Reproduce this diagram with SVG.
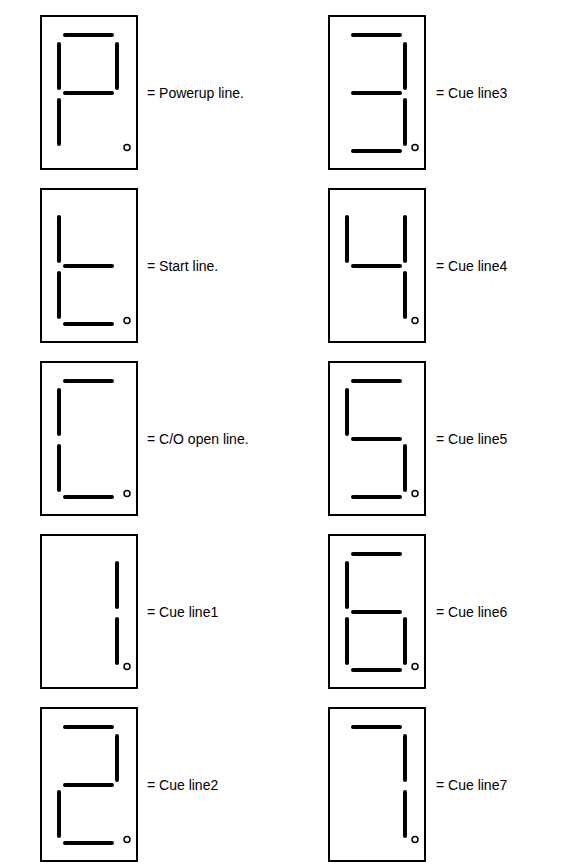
<svg xmlns="http://www.w3.org/2000/svg" xmlns:xlink="http://www.w3.org/1999/xlink" width="572" height="866" viewBox="0 0 572 866">
<style>
.box{fill:#fff;stroke:#000;stroke-width:2}
.seg{stroke:#000;stroke-width:4;stroke-linecap:round;fill:none}
.dot{fill:none;stroke:#000;stroke-width:1.5}
.lbl{font-family:"Liberation Sans",Arial,sans-serif;font-size:14px;fill:#000}
</style>
<defs>
<line id="a" class="seg" x1="24" y1="19" x2="71" y2="19"/>
<line id="b" class="seg" x1="76" y1="28" x2="76" y2="72"/>
<line id="c" class="seg" x1="76" y1="84" x2="76" y2="128"/>
<line id="d" class="seg" x1="24" y1="135" x2="71" y2="135"/>
<line id="e" class="seg" x1="18" y1="84" x2="18" y2="128"/>
<line id="f" class="seg" x1="18" y1="28" x2="18" y2="72"/>
<line id="g" class="seg" x1="24" y1="77" x2="71" y2="77"/>
<g id="frame"><rect class="box" x="0" y="0" width="96" height="153"/><circle class="dot" cx="86" cy="131.5" r="3"/></g>
</defs>
<g id="disp-P" transform="translate(41,16)"><use href="#frame"/><use href="#a"/><use href="#b"/><use href="#f"/><use href="#g"/><use href="#e"/><text class="lbl" x="106" y="81.5">= Powerup line.</text></g>
<g id="disp-3" transform="translate(329,16)"><use href="#frame"/><use href="#a"/><use href="#b"/><use href="#g"/><use href="#c"/><use href="#d"/><text class="lbl" x="107" y="81.5">= Cue line3</text></g>
<g id="disp-t" transform="translate(41,189)"><use href="#frame"/><use href="#f"/><use href="#e"/><use href="#g"/><use href="#d"/><text class="lbl" x="106" y="81.5">= Start line.</text></g>
<g id="disp-4" transform="translate(329,189)"><use href="#frame"/><use href="#f"/><use href="#b"/><use href="#g"/><use href="#c"/><text class="lbl" x="107" y="81.5">= Cue line4</text></g>
<g id="disp-C" transform="translate(41,362)"><use href="#frame"/><use href="#a"/><use href="#f"/><use href="#e"/><use href="#d"/><text class="lbl" x="106" y="81.5">= C/O open line.</text></g>
<g id="disp-5" transform="translate(329,362)"><use href="#frame"/><use href="#a"/><use href="#f"/><use href="#g"/><use href="#c"/><use href="#d"/><text class="lbl" x="107" y="81.5">= Cue line5</text></g>
<g id="disp-1" transform="translate(41,535)"><use href="#frame"/><use href="#b"/><use href="#c"/><text class="lbl" x="106" y="81.5">= Cue line1</text></g>
<g id="disp-6" transform="translate(329,535)"><use href="#frame"/><use href="#a"/><use href="#f"/><use href="#g"/><use href="#e"/><use href="#c"/><use href="#d"/><text class="lbl" x="107" y="81.5">= Cue line6</text></g>
<g id="disp-2" transform="translate(41,708)"><use href="#frame"/><use href="#a"/><use href="#b"/><use href="#g"/><use href="#e"/><use href="#d"/><text class="lbl" x="106" y="81.5">= Cue line2</text></g>
<g id="disp-7" transform="translate(329,708)"><use href="#frame"/><use href="#a"/><use href="#b"/><use href="#c"/><text class="lbl" x="107" y="81.5">= Cue line7</text></g>
</svg>
